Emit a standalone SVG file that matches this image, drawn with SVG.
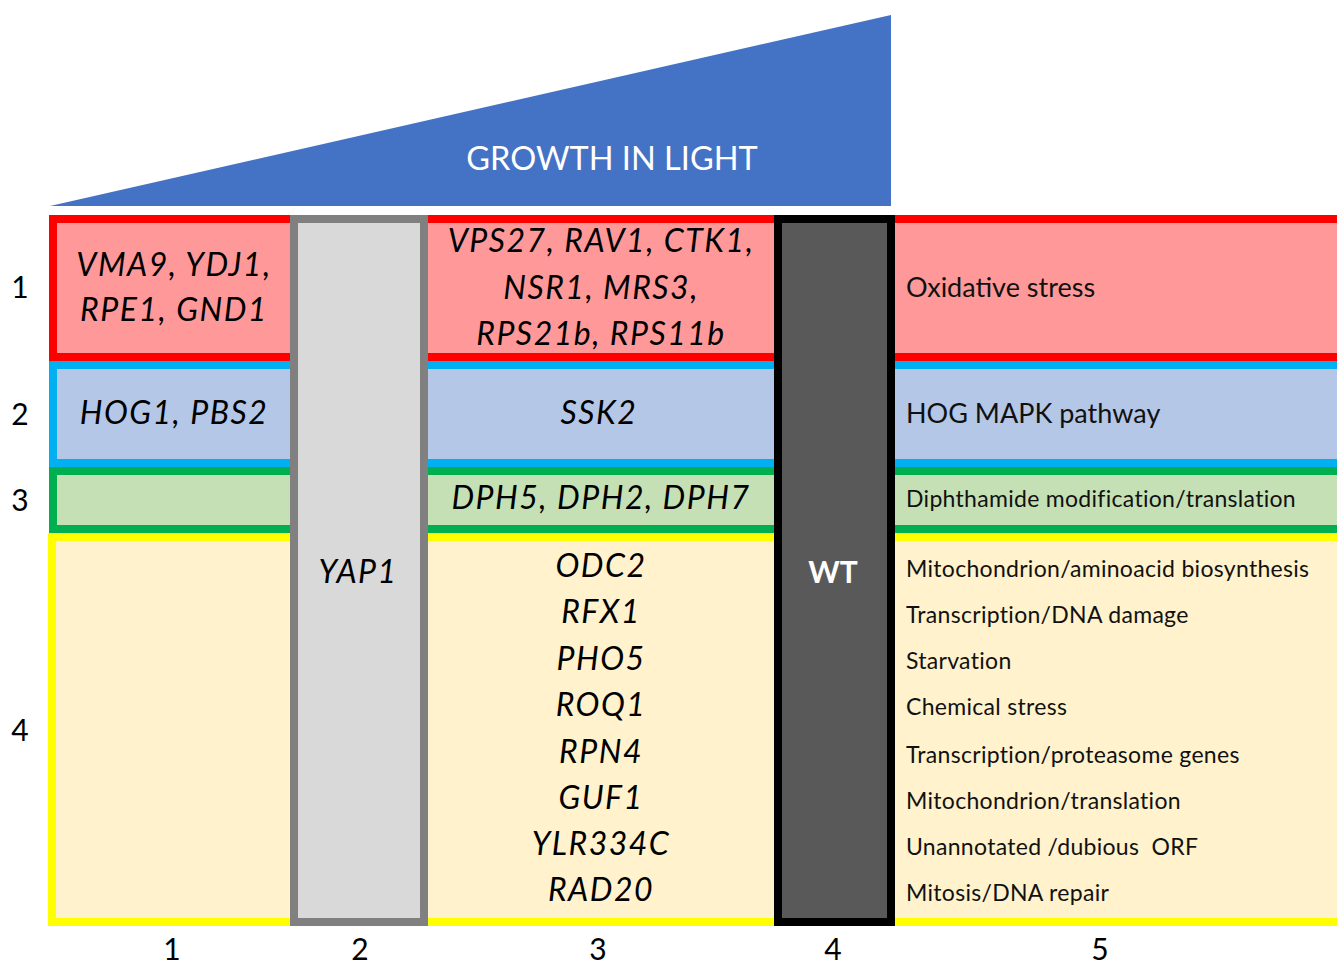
<svg xmlns="http://www.w3.org/2000/svg" width="1337" height="966" viewBox="0 0 1337 966">
  <style>
    .row { stroke-width: 8; }
    .r1 { fill: #FF9999; stroke: #FF0000; }
    .r2 { fill: #B4C7E7; stroke: #00B0F0; }
    .r3 { fill: #C5E0B4; stroke: #00B050; }
    .r4 { fill: #FFF2CC; stroke: #FFFF00; }
    .gene { font-family: Lato, "Open Sans", sans-serif; font-style: italic; font-size: 32px; letter-spacing: 1.5px; fill: #000; text-anchor: middle; }
    .desc { font-family: Lato, "Open Sans", sans-serif; font-size: 23px; letter-spacing: 0.3px; fill: #111; }
    .desc-lg { font-family: Lato, "Open Sans", sans-serif; font-size: 27px; fill: #111; }
    .num { font-family: Lato, "Open Sans", sans-serif; font-size: 30px; fill: #000; text-anchor: middle; }
  </style>

  <!-- growth gradient wedge -->
  <g id="growth">
    <polygon points="50,206 891,15 891,206" fill="#4472C4"/>
    <text x="612" y="170" font-family="Lato, 'Open Sans', sans-serif" font-size="32.5" fill="#FFFFFF" text-anchor="middle">GROWTH IN LIGHT</text>
  </g>

  <!-- category rows -->
  <g id="row1"><rect class="row r1" x="53" y="219" width="1400" height="138"/></g>
  <g id="row2"><rect class="row r2" x="53" y="365" width="1400" height="98"/></g>
  <g id="row3"><rect class="row r3" x="53" y="471" width="1400" height="58"/></g>
  <g id="row4"><rect class="row r4" x="52" y="537" width="1400" height="385"/></g>

  <!-- column 2: YAP1 -->
  <g id="col-yap1">
    <rect x="294" y="219" width="130" height="703" fill="#D9D9D9" stroke="#808080" stroke-width="8"/>
    <text class="gene" x="358" y="583">YAP1</text>
  </g>

  <!-- column 4: wild type -->
  <g id="col-wt">
    <rect x="778" y="219" width="113" height="703" fill="#595959" stroke="#000000" stroke-width="8"/>
    <text x="833" y="583" font-family="Lato, 'Open Sans', sans-serif" font-weight="bold" font-size="30" fill="#FFFFFF" text-anchor="middle">WT</text>
  </g>

  <!-- gene sets -->
  <g id="genes-r1c1">
    <text class="gene" x="174" y="276">VMA9, YDJ1,</text>
    <text class="gene" x="174" y="321">RPE1, GND1</text>
  </g>
  <g id="genes-r1c3">
    <text class="gene" x="601" y="252">VPS27, RAV1, CTK1,</text>
    <text class="gene" x="601" y="299">NSR1, MRS3,</text>
    <text class="gene" x="601" y="345">RPS21b, RPS11b</text>
  </g>
  <g id="genes-r2c1"><text class="gene" x="174" y="424">HOG1, PBS2</text></g>
  <g id="genes-r2c3"><text class="gene" x="599" y="424">SSK2</text></g>
  <g id="genes-r3c3"><text class="gene" x="601" y="509">DPH5, DPH2, DPH7</text></g>
  <g id="genes-r4c3">
    <text class="gene" x="601" y="577">ODC2</text>
    <text class="gene" x="601" y="623">RFX1</text>
    <text class="gene" x="601" y="670">PHO5</text>
    <text class="gene" x="601" y="716">ROQ1</text>
    <text class="gene" x="601" y="763">RPN4</text>
    <text class="gene" x="601" y="809">GUF1</text>
    <text class="gene" x="601" y="855">YLR334C</text>
    <text class="gene" x="601" y="901">RAD20</text>
  </g>

  <!-- functional annotations -->
  <g id="annotations">
    <text class="desc-lg" x="906" y="297">Oxidative stress</text>
    <text class="desc-lg" x="906" y="423">HOG MAPK pathway</text>
    <text class="desc" x="906" y="507">Diphthamide modification/translation</text>
    <text class="desc" x="906" y="577">Mitochondrion/aminoacid biosynthesis</text>
    <text class="desc" x="906" y="623">Transcription/DNA damage</text>
    <text class="desc" x="906" y="669">Starvation</text>
    <text class="desc" x="906" y="715">Chemical stress</text>
    <text class="desc" x="906" y="763">Transcription/proteasome genes</text>
    <text class="desc" x="906" y="809">Mitochondrion/translation</text>
    <text class="desc" x="906" y="855" xml:space="preserve">Unannotated /dubious  ORF</text>
    <text class="desc" x="906" y="901">Mitosis/DNA repair</text>
  </g>

  <!-- row numbers -->
  <g id="row-labels">
    <text class="num" x="20" y="298">1</text>
    <text class="num" x="20" y="425">2</text>
    <text class="num" x="20" y="511">3</text>
    <text class="num" x="20" y="741">4</text>
  </g>

  <!-- column numbers -->
  <g id="col-labels">
    <text class="num" x="172" y="960">1</text>
    <text class="num" x="360" y="960">2</text>
    <text class="num" x="598" y="960">3</text>
    <text class="num" x="833" y="960">4</text>
    <text class="num" x="1100" y="960">5</text>
  </g>

  <!-- no connectors in this figure -->
  <g id="connectors"/>
</svg>
